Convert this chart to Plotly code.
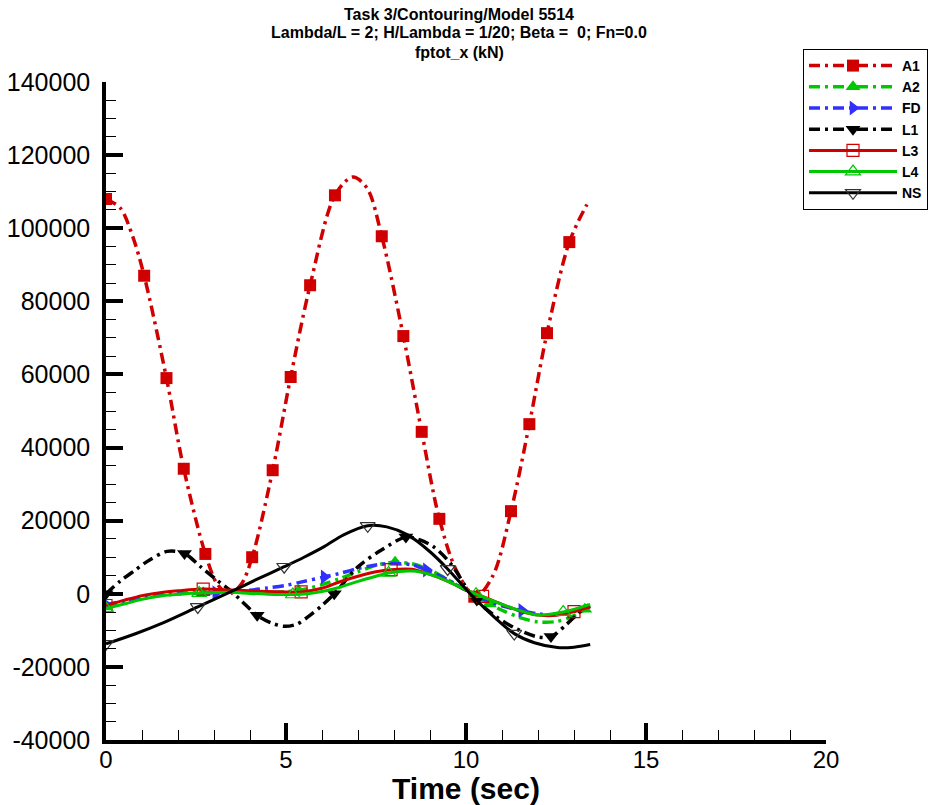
import plotly.graph_objects as go

# ---------------- data ----------------
A1_t = [0, 0.4, 0.75, 1.06, 1.68, 2.16, 2.76, 3.1, 3.42, 3.75, 4.06, 4.63, 5.13, 5.67, 6.36, 6.85, 7.25,
        7.66, 8.26, 8.77, 9.26, 9.75, 10.27, 10.75, 11.25, 11.76, 12.25, 12.87, 13.36]
A1_v = [108000, 105500, 97500, 87000, 59000, 34200, 10900, 2500, 0, 2500, 10000, 33800, 59300, 84400, 109000,
        114000, 111000, 97800, 70500, 44300, 20500, 6000, -800, 5000, 22600, 46400, 71300, 96200, 106500]
A1_mt = [0, 1.06, 1.68, 2.16, 2.76, 4.06, 4.63, 5.13, 5.67, 6.36, 7.66, 8.26, 8.77, 9.26, 10.23, 11.25, 11.76, 12.25, 12.87]
A1_mv = [108000, 87000, 59000, 34200, 10900, 10000, 33800, 59300, 84400, 109000, 97800, 70500, 44300, 20500, -800,
         22600, 46400, 71300, 96200]

A2_t = [0, 0.5, 1.0, 1.5, 2.0, 2.7, 3.5, 4.0, 4.5, 5.0, 5.35, 6.0, 6.5, 7.0, 7.5, 8.0, 8.5, 9.0, 9.5, 10.0,
        10.5, 11.0, 11.5, 12.0, 12.5, 13.0, 13.45]
A2_v = [-3600, -2500, -1300, -500, 0, 300, 500, 300, 300, 600, 900, 2500, 4200, 6000, 7800, 8600, 8200, 6500,
        3800, 900, -2000, -4500, -6500, -7700, -7600, -6000, -3300]
A2_mt = [0, 2.7, 5.35, 8.03, 10.65, 13.3]
A2_mv = [-3600, 300, 900, 8600, -2800, -4200]

FD_t = [0, 0.5, 1.0, 1.5, 2.0, 2.5, 3.05, 3.5, 4.0, 4.5, 5.0, 5.5, 6.06, 6.5, 7.0, 7.5, 8.0, 8.5, 8.9, 9.5,
        10.0, 10.5, 11.0, 11.55, 12.0, 12.5, 13.0, 13.45]
FD_v = [-3000, -2000, -1100, -400, 0, 200, 300, 600, 1000, 1600, 2300, 3400, 4600, 5600, 6900, 7900, 8300, 7900,
        6500, 3800, 1000, -1500, -3300, -4600, -5500, -5700, -4700, -3500]
FD_mt = [0, 3.05, 6.06, 8.9, 11.55]
FD_mv = [-3000, 300, 4600, 6500, -4600]

L1_t = [0, 0.4, 0.8, 1.2, 1.7, 2.18, 2.64, 3.1, 3.5, 3.8, 4.2, 4.6, 4.95, 5.3, 5.6, 6.0, 6.34, 6.99, 7.64,
        8.33, 8.7, 9.12, 9.58, 10.2, 10.8, 11.4, 12.0, 12.36, 12.8, 13.1, 13.4]
L1_v = [0, 3500, 6400, 9200, 11600, 11000, 7300, 3600, 500, -2300, -5900, -8000, -8900, -8300, -6400, -3200, 0,
        7300, 11900, 15500, 14800, 12700, 8200, -900, -6000, -9600, -11800, -11700, -8300, -5500, -3000]
L1_mt = [0, 2.18, 4.2, 6.34, 8.33, 10.3, 12.36]
L1_mv = [0, 11000, -5900, 0, 15500, -1700, -11700]

L3_t = [0, 0.5, 1.0, 1.5, 2.0, 2.7, 3.5, 4.0, 4.5, 5.0, 5.42, 6.0, 6.5, 7.0, 7.5, 7.92, 8.5, 9.0, 9.5, 10.0,
        10.46, 11.0, 11.5, 12.0, 12.5, 13.0, 13.45]
L3_v = [-3200, -1800, -500, 300, 800, 1300, 1000, 800, 600, 500, 500, 1500, 3300, 4800, 6000, 6600, 6700, 5300,
        3400, 1000, -700, -2900, -4700, -5800, -5900, -4900, -3600]
L3_mt = [0, 2.7, 5.42, 7.92, 10.46, 13.0]
L3_mv = [-3200, 1300, 500, 6600, -700, -4900]

L4_t = [0, 0.5, 1.0, 1.5, 2.0, 2.59, 3.5, 4.0, 4.5, 5.19, 5.6, 6.0, 6.5, 7.0, 7.5, 7.85, 8.5, 9.0, 9.5, 10.0,
        10.28, 11.0, 11.5, 12.0, 12.7, 13.45]
L4_v = [-4000, -2800, -1500, -600, -100, 200, 400, 100, -100, -200, 0, 600, 1800, 3400, 4800, 5700, 6200, 5300,
        3400, 1100, -100, -2900, -4600, -5800, -5000, -2900]
L4_mt = [0, 2.59, 5.19, 7.85, 10.28, 12.7]
L4_mv = [-4000, 200, -200, 5700, -100, -5000]

NS_t = [0, 0.8, 1.6, 2.55, 3.5, 4.2, 4.95, 5.5, 6.06, 6.6, 7.27, 7.8, 8.38, 9.0, 9.49, 10.2, 10.8, 11.34, 11.9,
        12.54, 13.0, 13.45]
NS_v = [-13700, -11000, -7900, -3600, 700, 4000, 7400, 10000, 12900, 16100, 18600, 18300, 16100, 11500, 6800,
        -900, -6500, -10900, -13400, -14700, -14600, -13900]
NS_mt = [0, 2.55, 4.95, 7.27, 9.49, 11.34]
NS_mv = [-13700, -3600, 7400, 18600, 6800, -10900]

x_tickvals = [0, 5, 10, 15, 20]
x_ticktext = ["0", "5", "10", "15", "20"]
y_tickvals = [-40000, -20000, 0, 20000, 40000, 60000, 80000, 100000, 120000, 140000]
y_ticktext = ["-40000", "-20000", "0", "20000", "40000", "60000", "80000", "100000", "120000", "140000"]

title_lines = ["Task 3/Contouring/Model 5514",
               "Lambda/L = 2; H/Lambda = 1/20; Beta =  0; Fn=0.0",
               "fptot_x (kN)"]

# ---------------- styles ----------------
RED = "#d00000"
GREEN = "#00c800"
BLUE = "#3030ff"
BLACK = "#000000"
DASHDOT = "11px,5px,3px,5px"
FONT = "Liberation Sans, Arial, Helvetica, sans-serif"

series = [
    ("A1", A1_t, A1_v, A1_mt, A1_mv, dict(color=RED, dash=DASHDOT, width=3.5),
     dict(symbol="square", size=12, color=RED)),
    ("A2", A2_t, A2_v, A2_mt, A2_mv, dict(color=GREEN, dash=DASHDOT, width=3.5),
     dict(symbol="triangle-up", size=13, color=GREEN)),
    ("FD", FD_t, FD_v, FD_mt, FD_mv, dict(color=BLUE, dash=DASHDOT, width=3.5),
     dict(symbol="triangle-right", size=13, color=BLUE)),
    ("L1", L1_t, L1_v, L1_mt, L1_mv, dict(color=BLACK, dash=DASHDOT, width=3.5),
     dict(symbol="triangle-down", size=13, color=BLACK)),
    ("L3", L3_t, L3_v, L3_mt, L3_mv, dict(color=RED, dash="solid", width=3),
     dict(symbol="square-open", size=12, color=RED, line=dict(width=1.2, color=RED))),
    ("L4", L4_t, L4_v, L4_mt, L4_mv, dict(color=GREEN, dash="solid", width=3),
     dict(symbol="triangle-up-open", size=13, color=GREEN, line=dict(width=1.2, color=GREEN))),
    ("NS", NS_t, NS_v, NS_mt, NS_mv, dict(color=BLACK, dash="solid", width=3),
     dict(symbol="triangle-down-open", size=13, color="#333333", line=dict(width=1.2, color="#333333"))),
]

fig = go.Figure()
for name, t, v, mt, mv, line, marker in series:
    fig.add_trace(go.Scatter(x=t, y=v, mode="lines", line=dict(shape="spline", smoothing=0.9, **line),
                             showlegend=False, hoverinfo="skip", legendgroup=name))
    fig.add_trace(go.Scatter(x=mt, y=mv, mode="markers", marker=marker, showlegend=False,
                             legendgroup=name, name=name))
    fig.add_trace(go.Scatter(x=[None], y=[None], mode="lines+markers", name=name, line=line,
                             marker=marker, legendgroup=name))

L, R, T, B = 106, 112, 82, 65
W, H = 938, 805
pw, ph = W - L - R, H - T - B

def px_to_paper_x(px):
    return (px - L) / pw

def px_to_paper_y(py):
    return (H - B - py) / ph

for txt, py in zip(title_lines, [14, 33, 52]):
    fig.add_annotation(text=txt, xref="paper", yref="paper", x=px_to_paper_x(459), y=px_to_paper_y(py),
                       xanchor="center", yanchor="middle", showarrow=False,
                       font=dict(family=FONT, size=16, color="black", weight="bold"))

axis_common = dict(showline=True, linecolor="black", linewidth=3.5, mirror=False, showgrid=False,
                   zeroline=False, ticks="inside", ticklen=17, tickwidth=3.5, tickcolor="black",
                   tickmode="array")

fig.update_layout(
    width=W, height=H,
    margin=dict(l=L, r=R, t=T, b=B, autoexpand=False),
    paper_bgcolor="white", plot_bgcolor="white",
    font=dict(family=FONT, color="black"),
    showlegend=True,
    legend=dict(x=px_to_paper_x(803), y=px_to_paper_y(49), xanchor="left", yanchor="top",
                bordercolor="black", borderwidth=1, bgcolor="white", itemwidth=88,
                font=dict(family=FONT, size=14, color="black", weight="bold"), tracegroupgap=0,
                itemclick=False),
    xaxis=dict(range=[0, 20], tickvals=x_tickvals, ticktext=x_ticktext,
               tickfont=dict(family=FONT, size=24, color="black"), ticklabelstandoff=-5,
               minor=dict(tickmode="linear", tick0=0, dtick=1, ticks="inside", ticklen=10, tickwidth=1,
                          tickcolor="black", showgrid=False),
               title=dict(text="Time (sec)", font=dict(family=FONT, size=30, color="black", weight="bold"),
                          standoff=4),
               **axis_common),
    yaxis=dict(range=[-40000, 140000], tickvals=y_tickvals, ticktext=y_ticktext,
               tickfont=dict(family=FONT, size=25, color="black"), ticklabelstandoff=7,
               minor=dict(tickmode="linear", tick0=0, dtick=5000, ticks="inside", ticklen=10, tickwidth=1,
                          tickcolor="black", showgrid=False),
               **axis_common),
)

fig.write_html("out.html")
